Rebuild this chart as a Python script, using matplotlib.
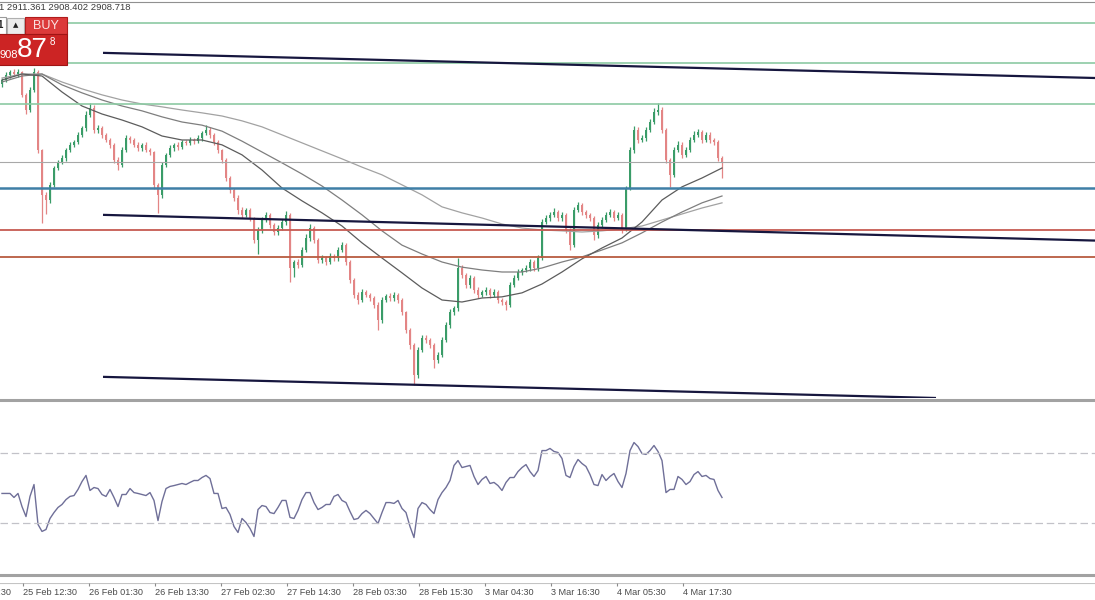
"""
Recreate a gold (XAUUSD, 30 min) trading chart screenshot:
candles, three moving averages, drawn levels/trendlines and an RSI pane.
"""

import numpy as np
import matplotlib
matplotlib.use('Agg')
import matplotlib.pyplot as plt
from matplotlib.patches import Rectangle

# ---------------------------------------------------------------
# Data
# ---------------------------------------------------------------
first_open = 2936.0

closes = [
    2937.4, 2939.1, 2940.2, 2939.5, 2940.2, 2932.2, 2926.9, 2933.9, 2940.2, 2912.9,
    2897.2, 2895.4, 2900.7, 2906.6, 2908.7, 2910.1, 2912.9, 2914.7, 2915.7, 2918.2,
    2920.6, 2925.2, 2927.6, 2919.9, 2920.6, 2918.2, 2916.4, 2914.7, 2909.4, 2907.7,
    2912.9, 2917.1, 2916.4, 2914.7, 2913.6, 2914.7, 2912.9, 2912.2, 2900.7, 2897.2,
    2907.7, 2911.1, 2913.6, 2914.7, 2914.0, 2915.7, 2915.4, 2916.4, 2915.9, 2917.1,
    2918.8, 2919.9, 2918.2, 2915.7, 2912.9, 2909.4, 2903.1, 2898.9, 2896.1, 2891.9,
    2890.2, 2891.9, 2889.1, 2881.4, 2884.9, 2888.4, 2890.2, 2886.7, 2884.2, 2885.6,
    2887.7, 2890.2, 2871.6, 2873.7, 2872.6, 2877.9, 2882.1, 2885.6, 2881.4, 2874.4,
    2875.1, 2873.7, 2875.8, 2875.1, 2877.9, 2879.6, 2873.7, 2867.4, 2862.2, 2860.4,
    2863.2, 2862.2, 2861.1, 2858.7, 2853.4, 2860.4, 2861.8, 2861.1, 2862.2, 2860.4,
    2856.2, 2849.9, 2844.7, 2834.2, 2842.9, 2847.1, 2846.4, 2844.7, 2839.4, 2841.2,
    2846.4, 2851.7, 2856.2, 2857.6, 2871.6, 2869.1, 2865.6, 2868.1, 2863.9, 2862.2,
    2863.2, 2863.9, 2862.2, 2863.2, 2860.4, 2859.7, 2858.7, 2865.6, 2868.1, 2870.2,
    2870.9, 2871.6, 2873.7, 2871.6, 2875.1, 2887.7, 2889.1, 2890.2, 2891.2, 2889.1,
    2890.2, 2884.9, 2879.6, 2891.9, 2893.6, 2891.2, 2890.2, 2889.1, 2883.1, 2886.7,
    2888.4, 2890.2, 2891.2, 2889.1, 2890.2, 2885.6, 2899.6, 2912.9, 2919.9, 2916.4,
    2917.1, 2919.9, 2922.7, 2926.2, 2926.9, 2919.9, 2909.4, 2904.2, 2912.9, 2914.7,
    2911.2, 2912.9, 2916.4, 2918.2, 2919.2, 2916.4, 2918.2, 2916.4, 2915.7, 2910.1,
    2908.7,
]

# upper / lower shadow length beyond the body, in dollars
wick_up = [
    0.8, 1.0, 0.6, 1.2, 0.9, 0.5, 0.7, 1.1, 1.4, 0.6,
    0.4, 0.9, 1.0, 0.7, 0.8, 1.1, 0.6, 0.9, 0.7, 1.0,
    0.8, 1.2, 1.7, 0.9, 1.1, 0.6, 0.8, 0.7, 0.5, 1.0,
    0.9, 1.2, 0.8, 0.6, 1.0, 0.7, 0.9, 0.8, 0.5, 0.6,
    1.0, 0.8, 0.9, 0.7, 1.1, 0.8, 0.6, 0.9, 0.7, 1.0,
    0.8, 1.7, 0.9, 0.6, 0.7, 0.5, 0.8, 0.6, 0.7, 0.9,
    1.1, 0.8, 0.7, 0.5, 1.2, 0.9, 1.0, 0.6, 0.8, 1.1,
    0.9, 1.2, 0.5, 0.8, 0.9, 1.0, 1.3, 1.4, 0.6, 0.7,
    0.9, 0.8, 1.1, 0.7, 1.0, 1.2, 0.6, 0.8, 0.7, 0.9,
    1.0, 0.8, 0.7, 0.6, 0.9, 1.1, 0.8, 1.0, 0.9, 0.7,
    0.6, 0.5, 0.8, 0.7, 1.2, 1.0, 0.9, 0.7, 0.6, 1.1,
    0.9, 1.0, 1.2, 0.8, 3.5, 1.0, 0.8, 1.1, 0.7, 0.9,
    0.8, 1.0, 0.7, 0.9, 0.6, 0.8, 0.7, 1.0, 0.9, 1.1,
    0.8, 1.0, 0.9, 0.7, 1.2, 1.1, 0.9, 1.0, 1.3, 0.8,
    1.0, 0.7, 0.6, 1.2, 1.1, 0.9, 0.8, 0.7, 0.6, 1.0,
    0.9, 1.1, 1.0, 0.8, 0.9, 0.6, 0.8, 1.0, 1.3, 0.9,
    1.0, 1.2, 1.1, 1.4, 2.4, 0.9, 0.7, 0.6, 1.0, 1.2,
    0.9, 1.0, 1.1, 1.2, 1.0, 0.8, 1.1, 0.9, 0.8, 0.7,
    0.6,
]
wick_down = [
    0.9, 0.7, 1.0, 0.8, 1.1, 0.9, 1.5, 0.8, 0.6, 1.2,
    9.8, 5.0, 1.2, 0.9, 0.8, 0.7, 1.0, 0.6, 0.9, 0.8,
    0.7, 0.9, 0.8, 1.2, 0.9, 1.0, 0.8, 1.1, 1.0, 1.8,
    0.9, 0.7, 1.0, 0.8, 0.9, 1.0, 0.8, 1.1, 1.4, 6.4,
    1.0, 0.8, 0.7, 0.9, 1.0, 0.8, 0.7, 0.9, 0.8, 0.7,
    0.9, 0.8, 1.0, 0.9, 1.1, 1.0, 1.2, 0.9, 1.0, 1.3,
    1.0, 0.8, 1.1, 1.2, 5.0, 0.9, 0.8, 1.0, 1.1, 0.9,
    0.8, 0.9, 4.8, 3.0, 1.0, 0.8, 0.7, 0.9, 1.0, 1.2,
    0.9, 1.1, 0.8, 1.0, 0.9, 0.7, 1.0, 1.2, 1.1, 1.4,
    0.8, 0.9, 1.0, 1.1, 3.5, 0.9, 0.8, 1.0, 0.9, 1.1,
    1.0, 1.2, 1.3, 3.6, 1.0, 0.8, 0.9, 1.1, 2.8, 1.0,
    0.9, 0.8, 1.0, 1.2, 0.9, 1.1, 1.0, 0.9, 1.2, 1.0,
    0.8, 0.9, 1.0, 0.8, 1.1, 1.0, 1.8, 0.9, 0.8, 0.7,
    0.9, 0.8, 1.0, 1.2, 0.9, 0.8, 0.7, 0.9, 0.8, 1.0,
    0.9, 1.1, 1.8, 0.8, 0.7, 0.9, 1.0, 1.1, 1.7, 0.9,
    0.8, 0.7, 0.9, 1.0, 0.8, 1.8, 1.0, 0.8, 0.9, 1.0,
    0.8, 0.9, 0.7, 0.8, 0.9, 1.0, 1.2, 4.2, 0.9, 0.8,
    1.0, 0.9, 0.8, 0.7, 0.9, 1.0, 0.8, 0.9, 1.0, 1.1,
    5.6,
]

# moving averages, sampled every 5 bars
ma_bars = np.arange(0, 181, 5)
ma_fast = [
    2937.4, 2939.5, 2938.8, 2933.2, 2928.3, 2925.5, 2923.4, 2921.0, 2917.8, 2916.4,
    2916.4, 2914.7, 2911.2, 2905.9, 2899.6, 2895.1, 2890.9, 2886.3, 2880.4, 2875.1,
    2869.9, 2864.6, 2860.4, 2859.7, 2861.1, 2861.5, 2862.9, 2866.0, 2870.2, 2874.8,
    2878.6, 2882.1, 2887.7, 2895.4, 2900.0, 2903.1, 2906.6,
]
ma_mid = [
    2936.7, 2938.8, 2939.5, 2935.7, 2932.9, 2930.4, 2928.3, 2926.6, 2924.5, 2922.7,
    2921.6, 2919.5, 2916.0, 2912.2, 2908.4, 2904.5, 2900.3, 2895.4, 2890.2, 2884.6,
    2879.6, 2876.5, 2873.7, 2871.9, 2870.9, 2870.2, 2870.2, 2871.6, 2873.7, 2875.5,
    2877.9, 2880.4, 2883.9, 2887.7, 2891.2, 2894.4, 2896.8,
]
ma_slow = [
    2938.1, 2939.5, 2939.5, 2936.7, 2934.3, 2932.2, 2930.4, 2929.0, 2928.0, 2926.9,
    2925.9, 2924.8, 2923.1, 2921.0, 2918.2, 2915.4, 2912.6, 2909.8, 2906.9, 2904.2,
    2900.7, 2897.2, 2893.0, 2890.9, 2889.1, 2887.0, 2885.6, 2884.9, 2884.6, 2884.2,
    2884.6, 2885.3, 2886.3, 2888.4, 2890.5, 2892.6, 2894.4,
]

rsi = [
    46.6, 46.6, 46.6, 44.3, 46.6, 39.1, 33.4, 44.9, 51.7, 28.9,
    24.9, 26.0, 32.3, 35.7, 38.6, 40.3, 43.1, 44.9, 45.4, 48.9,
    53.4, 56.9, 48.3, 50.0, 49.4, 46.0, 44.9, 48.9, 44.3, 39.1,
    46.0, 46.0, 49.4, 47.1, 46.6, 46.0, 45.4, 47.1, 42.6, 31.1,
    42.0, 49.4, 50.6, 51.1, 51.7, 52.3, 51.7, 52.9, 54.0, 54.0,
    55.7, 56.9, 55.1, 46.6, 46.6, 38.0, 38.6, 34.6, 27.7, 24.3,
    32.3, 30.0, 26.6, 22.0, 37.4, 39.7, 39.1, 35.7, 35.1, 38.6,
    42.6, 42.6, 32.9, 32.3, 36.9, 43.1, 47.1, 47.1, 41.4, 37.4,
    38.6, 40.3, 40.3, 44.9, 46.0, 42.6, 41.4, 36.3, 31.7, 32.3,
    35.1, 36.9, 35.1, 32.3, 29.4, 35.7, 41.4, 41.4, 40.9, 42.6,
    38.0, 35.7, 27.7, 21.4, 38.0, 41.4, 40.3, 37.4, 35.1, 43.1,
    47.1, 50.0, 54.0, 62.6, 65.4, 61.4, 62.0, 62.6, 56.3, 51.7,
    54.6, 56.3, 52.3, 52.9, 51.1, 48.3, 52.9, 55.7, 55.7, 59.1,
    61.4, 63.1, 59.1, 56.3, 59.7, 71.1, 71.1, 72.3, 70.6, 70.0,
    66.6, 56.9, 55.7, 62.0, 66.0, 63.7, 62.0, 57.4, 51.7, 51.1,
    57.4, 54.0, 56.3, 58.0, 53.4, 50.0, 58.0, 71.1, 75.7, 73.4,
    69.4, 68.9, 71.1, 74.0, 70.6, 65.4, 47.1, 48.9, 48.9, 56.3,
    54.6, 51.7, 53.4, 57.4, 59.1, 56.3, 56.9, 55.1, 54.6, 48.3,
    44.3,
]
rsi_levels = [30, 70]

# drawn objects
green_levels = [2957.3, 2943.4, 2929.0]
price_line = 2908.6
blue_level = 2899.7
red_levels = [2884.9, 2875.5]
trend_top = [(25.25, 2946.9), (273.25, 2938.1)]
trend_mid = [(25.25, 2890.2), (273.25, 2881.2)]
trend_low = [(25.25, 2833.5), (233.5, 2826.1)]

# time axis
tick_bars = [-11.2, 5.3, 21.8, 38.3, 54.8, 71.3, 87.8, 104.3, 120.8, 137.3, 153.8, 170.2]
tick_labels = ["25 Feb 00:30", "25 Feb 12:30", "26 Feb 01:30", "26 Feb 13:30",
               "27 Feb 02:30", "27 Feb 14:30", "28 Feb 03:30", "28 Feb 15:30",
               "3 Mar 04:30", "3 Mar 16:30", "4 Mar 05:30", "4 Mar 17:30"]

header_text = "1 2911.361 2908.402 2908.718"

# ---------------------------------------------------------------
W, H = 1095, 600
XLIM = (-0.5, 273.25)
UP_COL = '#3a9c68'
DOWN_COL = '#e38585'
FONT = 'Liberation Sans'


def px_axes(fig, top, bottom):
    """Full-width axes between two pixel rows (measured from the top)."""
    ax = fig.add_axes([0, 1 - bottom / H, 1, (bottom - top) / H])
    ax.set_xlim(*XLIM)
    ax.axis('off')
    return ax


def draw_price_pane(ax):
    c = np.array(closes)
    o = np.r_[first_open, c[:-1]]
    hi = np.maximum(o, c) + np.array(wick_up)
    lo = np.minimum(o, c) - np.array(wick_down)
    idx = np.arange(len(c))
    cols = np.where(c >= o, UP_COL, DOWN_COL)

    ax.vlines(idx, lo, hi, colors=cols, linewidth=0.9, zorder=2)
    ax.bar(idx, np.maximum(np.abs(c - o), 0.4), bottom=np.minimum(o, c),
           width=0.7, color=cols, linewidth=0, zorder=2)

    # moving averages
    ax.plot(ma_bars, ma_slow, color='#a2a2a2', lw=0.9, zorder=3)
    ax.plot(ma_bars, ma_mid, color='#7e7e7e', lw=0.9, zorder=3)
    ax.plot(ma_bars, ma_fast, color='#5c5c5c', lw=0.9, zorder=3)

    # horizontal levels
    for lvl in green_levels:
        ax.axhline(lvl, color='#8ccaa3', lw=1.2, zorder=4)
    ax.axhline(price_line, color='#a8a8a8', lw=0.8, zorder=4)
    ax.axhline(blue_level, color='#3f7fa6', lw=1.8, zorder=4)
    ax.axhline(red_levels[0], color='#c65a52', lw=1.3, zorder=4)
    ax.axhline(red_levels[1], color='#b85c40', lw=1.3, zorder=4)

    # trendlines
    for line in (trend_top, trend_mid, trend_low):
        xs, ys = zip(*line)
        ax.plot(xs, ys, color='#16163e', lw=1.6, zorder=5,
                solid_capstyle='butt')

    ax.set_ylim(2965.4 - 0.35 * 398, 2965.4 - 0.35 * 2)


def draw_rsi_pane(ax):
    ax.plot(np.arange(len(rsi)), rsi, color='#6f6f98', lw=1.0)
    for lvl in rsi_levels:
        ax.axhline(lvl, color='#c2c2c8', lw=0.9, linestyle=(0, (6, 3)))
    ax.set_ylim(0, 100)


def draw_time_axis(ax):
    ax.set_ylim(17, 0)
    ax.axhline(0.3, color='#c4c4c4', lw=0.8)
    ax.vlines(tick_bars, 0, 3, color='#8a8a8a', lw=0.8)
    for t, lab in zip(tick_bars, tick_labels):
        ax.text(t, 9.5, lab, ha='left', va='center', fontsize=6.6,
                family=FONT, color='#4a4a4a')


def draw_overlay(fig):
    """Pane borders, header text and the one-click BUY panel, in pixel units."""
    ov = fig.add_axes([0, 0, 1, 1], zorder=10)
    ov.set_xlim(0, W)
    ov.set_ylim(H, 0)
    ov.axis('off')
    ov.patch.set_alpha(0)

    # pane separators
    ov.axhline(1.5, color='#909090', lw=0.8)
    ov.axhline(399.5, color='#a2a2a2', lw=2.2)
    ov.axhline(574.8, color='#a2a2a2', lw=2.2)

    ov.text(-1, 8, header_text, ha='left', va='center', fontsize=6.8,
            family=FONT, color='#3a3a3a')

    # lot field + arrow button
    ov.add_patch(Rectangle((-2, 17), 8, 17, facecolor='white',
                           edgecolor='#9a9a9a', lw=0.8))
    ov.text(0.5, 25.5, '1', ha='center', va='center', fontsize=7,
            family=FONT, color='#222', weight='bold')
    ov.add_patch(Rectangle((7, 17.5), 17, 16, facecolor='#ececec',
                           edgecolor='#b0b0b0', lw=0.8))
    ov.text(15.5, 25.5, '\u25b2', ha='center', va='center', fontsize=5,
            color='#222')

    # red BUY block
    ov.add_patch(Rectangle((25, 17), 42, 17, facecolor='#dc3a3a',
                           edgecolor='#b01c1c', lw=0.8))
    ov.add_patch(Rectangle((-2, 34), 69, 31, facecolor='#cc2424',
                           edgecolor='#a01414', lw=0.8))
    ov.text(46, 26, 'BUY', ha='center', va='center', fontsize=9,
            family=FONT, color='#fbe4e4')
    ov.text(-1, 55, '908', ha='left', va='center', fontsize=8,
            family=FONT, color='white')
    ov.text(32, 50, '87', ha='center', va='center', fontsize=20,
            family=FONT, color='white')
    ov.text(52, 42, '8', ha='center', va='center', fontsize=7,
            family=FONT, color='white')


def main():
    fig = plt.figure(figsize=(W / 100, H / 100), dpi=100, facecolor='white')

    draw_price_pane(px_axes(fig, 2, 398))
    draw_rsi_pane(px_axes(fig, 400, 575))
    draw_time_axis(px_axes(fig, 583, 600))
    draw_overlay(fig)

    fig.savefig('out.png', dpi=100, facecolor='white')
    plt.close(fig)


if __name__ == "__main__":
    main()
